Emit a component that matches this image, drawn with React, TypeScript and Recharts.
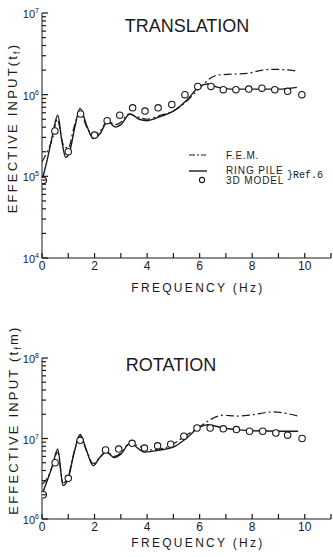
import React from "react"
import { ComposedChart, Line, Scatter, XAxis, YAxis } from "recharts"

const INK = "#1a1a1a"
const FONT = "'Liberation Sans', Arial, Helvetica, sans-serif"

// frequency axis
const freqTicks = [0, 1, 2, 3, 4, 5, 6, 7, 8, 9, 10, 11]
const minorSteps = [1, 2, 3, 4, 5, 6, 7, 8, 9]
const transDecades = [1e4, 1e5, 1e6]
const rotDecades = [1e6, 1e7]

// TRANSLATION
const transFemF = [0, 0.2, 0.4, 0.58, 0.8, 1.0, 1.2, 1.45, 1.7, 1.95, 2.2, 2.5, 2.8, 3.0, 3.3, 3.6, 4.0, 4.5, 5.0, 5.5, 6.0, 6.3, 6.7, 7.2, 7.8, 8.4, 8.9, 9.7]
const transFemV = [1.5e5, 2.0e5, 2.9e5, 5.0e5, 2.5e5, 2.2e5, 3.8e5, 6.3e5, 4.0e5, 3.2e5, 3.5e5, 4.8e5, 4.3e5, 4.6e5, 5.8e5, 5.4e5, 5.0e5, 5.6e5, 6.3e5, 8.3e5, 1.2e6, 1.5e6, 1.74e6, 1.78e6, 1.82e6, 2.0e6, 2.04e6, 1.95e6]
const transRingF = [0, 0.2, 0.4, 0.6, 0.75, 0.9, 1.05, 1.25, 1.45, 1.7, 1.95, 2.2, 2.5, 2.8, 3.0, 3.35, 3.7, 4.0, 4.5, 5.0, 5.5, 6.0, 6.3, 6.7, 7.2, 8.0, 9.0, 9.7]
const transRingV = [8.9e4, 1.6e5, 3.2e5, 5.6e5, 2.8e5, 1.7e5, 2.0e5, 4.0e5, 6.8e5, 4.2e5, 2.9e5, 3.3e5, 4.7e5, 4.0e5, 4.3e5, 5.8e5, 5.0e5, 4.8e5, 5.4e5, 6.3e5, 8.5e5, 1.26e6, 1.35e6, 1.23e6, 1.17e6, 1.17e6, 1.17e6, 1.23e6]
const trans3dF = [0.05, 0.49, 1.0, 1.47, 2.0, 2.48, 2.96, 3.45, 3.92, 4.42, 4.94, 5.44, 5.93, 6.43, 6.9, 7.38, 7.87, 8.37, 8.86, 9.35, 9.89]
const trans3dV = [8.9e4, 3.6e5, 2.0e5, 5.8e5, 3.2e5, 4.8e5, 5.6e5, 6.9e5, 6.3e5, 6.9e5, 7.6e5, 1.0e6, 1.26e6, 1.26e6, 1.15e6, 1.15e6, 1.17e6, 1.2e6, 1.15e6, 1.1e6, 1.0e6]

// ROTATION
const rotFemF = [0, 0.2, 0.4, 0.6, 0.8, 1.0, 1.2, 1.45, 1.7, 1.95, 2.2, 2.45, 2.75, 3.0, 3.3, 3.6, 4.0, 4.5, 5.0, 5.4, 6.0, 6.5, 6.9, 7.4, 7.9, 8.8, 9.3, 9.75]
const rotFemV = [2.7e6, 3.2e6, 4.6e6, 6.8e6, 2.8e6, 3.4e6, 6.4e6, 1.06e7, 7.0e6, 4.9e6, 5.8e6, 6.9e6, 6.0e6, 6.6e6, 8.5e6, 8.3e6, 7.2e6, 7.4e6, 8.6e6, 1.05e7, 1.4e7, 1.78e7, 1.95e7, 1.9e7, 1.95e7, 2.14e7, 2.05e7, 1.9e7]
const rotRingF = [0, 0.2, 0.4, 0.6, 0.8, 1.0, 1.2, 1.45, 1.7, 1.95, 2.2, 2.45, 2.75, 3.0, 3.35, 3.9, 4.5, 5.0, 5.4, 6.0, 6.3, 6.9, 7.5, 8.0, 9.0, 9.75]
const rotRingV = [2.0e6, 3.0e6, 4.6e6, 7.4e6, 2.6e6, 3.2e6, 6.2e6, 1.12e7, 7.0e6, 4.6e6, 5.8e6, 6.8e6, 5.8e6, 6.4e6, 8.7e6, 6.8e6, 7.2e6, 7.8e6, 9.5e6, 1.38e7, 1.48e7, 1.35e7, 1.28e7, 1.25e7, 1.23e7, 1.23e7]
const rot3dF = [0.05, 0.5, 1.0, 1.45, 2.42, 2.92, 3.43, 3.9, 4.4, 4.9, 5.4, 5.9, 6.4, 6.9, 7.4, 7.9, 8.4, 8.9, 9.35, 9.9]
const rot3dV = [2.0e6, 5.0e6, 3.2e6, 9.5e6, 7.2e6, 7.4e6, 8.7e6, 7.6e6, 8.1e6, 8.5e6, 1.07e7, 1.35e7, 1.35e7, 1.32e7, 1.29e7, 1.23e7, 1.23e7, 1.17e7, 1.1e7, 1.0e7]

const zip = (f: number[], v: number[]) => f.map((x, i) => ({ f: x, v: v[i] }))

const logTicks = (decades: number[]) => {
  const out: number[] = []
  decades.forEach((d) => minorSteps.forEach((m) => out.push(m * d)))
  out.push(decades[decades.length - 1] * 10)
  return out
}

// x, y are the axis-line position (tickSize and tickMargin are 0); marks point inward
function LogTick(props: any) {
  const x = Number(props.x)
  const y = Number(props.y)
  const lg = Math.log10(Number(props.payload.value))
  const exp = Math.round(lg)
  const major = Math.abs(lg - exp) < 1e-6
  return (
    <g>
      <rect x={x} y={y - 0.6} width={major ? 6 : 4} height={1.2} fill={INK} />
      {major && (
        <text x={x - 3} y={y + 5} textAnchor="end" fontSize={11} fill={INK} fontFamily={FONT}>
          10
          <tspan dy={-5} fontSize={7}>
            {exp}
          </tspan>
        </text>
      )}
    </g>
  )
}

function FreqTick(props: any) {
  const x = Number(props.x)
  const y = Number(props.y)
  const v = Number(props.payload.value)
  return (
    <g>
      <rect x={x - 0.6} y={y - 5} width={1.2} height={5} fill={INK} />
      {v % 2 === 0 && v <= 10 && (
        <text x={x} y={y + 12} textAnchor="middle" fontSize={12} fill={INK} fontFamily={FONT}>
          {v}
        </text>
      )}
    </g>
  )
}

const circle = (p: any) => (
  <circle cx={p.cx} cy={p.cy} r={3.2} fill="#fff" stroke={INK} strokeWidth={1.1} />
)

type PanelProps = {
  fem: { f: number; v: number }[]
  ring: { f: number; v: number }[]
  model: { f: number; v: number }[]
  domain: [number, number]
  decades: number[]
  height: number
  top: number
  axisHeight: number
}

function Panel({ fem, ring, model, domain, decades, height, top, axisHeight }: PanelProps) {
  return (
    <ComposedChart width={333} height={height} margin={{ top, right: 2, bottom: 0, left: 0 }}>
      <XAxis
        type="number"
        dataKey="f"
        domain={[0, 11]}
        ticks={freqTicks}
        interval={0}
        tick={<FreqTick />}
        tickLine={false}
        tickSize={0}
        tickMargin={0}
        height={axisHeight}
        stroke={INK}
        allowDataOverflow
      />
      <YAxis
        type="number"
        dataKey="v"
        scale="log"
        domain={domain}
        ticks={logTicks(decades)}
        interval={0}
        tick={<LogTick />}
        tickLine={false}
        tickSize={0}
        tickMargin={0}
        width={42}
        stroke={INK}
        allowDataOverflow
      />
      <Line
        data={fem}
        dataKey="v"
        type="monotone"
        stroke={INK}
        strokeWidth={1.2}
        strokeDasharray="8 3 2 3"
        dot={false}
        isAnimationActive={false}
      />
      <Line
        data={ring}
        dataKey="v"
        type="monotone"
        stroke={INK}
        strokeWidth={1.4}
        dot={false}
        isAnimationActive={false}
      />
      <Scatter data={model} dataKey="v" shape={circle} isAnimationActive={false} />
    </ComposedChart>
  )
}

export default function App() {
  const label = { fontFamily: FONT, fill: INK }
  return (
    <div style={{ position: "absolute", left: 0, top: 0, width: 333, height: 557, background: "#fff" }}>
      <div style={{ position: "absolute", left: 0, top: 0 }}>
        <Panel
          fem={zip(transFemF, transFemV)}
          ring={zip(transRingF, transRingV)}
          model={zip(trans3dF, trans3dV)}
          domain={[1e4, 1e7]}
          decades={transDecades}
          height={290}
          top={13}
          axisHeight={32}
        />
      </div>
      <div style={{ position: "absolute", left: 0, top: 290 }}>
        <Panel
          fem={zip(rotFemF, rotFemV)}
          ring={zip(rotRingF, rotRingV)}
          model={zip(rot3dF, rot3dV)}
          domain={[1e6, 1e8]}
          decades={rotDecades}
          height={267}
          top={68}
          axisHeight={38}
        />
      </div>
      <svg width={333} height={557} style={{ position: "absolute", left: 0, top: 0, pointerEvents: "none" }}>
        <text x={187} y={32} textAnchor="middle" fontSize={18} {...label}>
          TRANSLATION
        </text>
        <text x={171} y={371} textAnchor="middle" fontSize={18} {...label}>
          ROTATION
        </text>

        <text x={198} y={292} textAnchor="middle" fontSize={12} letterSpacing={2.3} {...label}>
          FREQUENCY (Hz)
        </text>
        <text x={198} y={547} textAnchor="middle" fontSize={12} letterSpacing={2.3} {...label}>
          FREQUENCY (Hz)
        </text>

        <text
          transform="translate(17 128) rotate(-90)"
          textAnchor="middle"
          fontSize={13}
          letterSpacing={2.2}
          {...label}
        >
          EFFECTIVE INPUT(t
          <tspan fontSize={9} dy={3}>f</tspan>
          <tspan dy={-3}>)</tspan>
        </text>
        <text
          transform="translate(18 420) rotate(-90)"
          textAnchor="middle"
          fontSize={13}
          letterSpacing={2.2}
          {...label}
        >
          EFFECTIVE INPUT (t
          <tspan fontSize={9} dy={3}>f</tspan>
          <tspan dy={-3}>m)</tspan>
        </text>

        {/* legend */}
        <line x1={189} x2={206} y1={155} y2={155} stroke={INK} strokeWidth={1.2} strokeDasharray="6 2 2 2" />
        <text x={226} y={159} fontSize={10} letterSpacing={0.8} {...label}>F.E.M.</text>
        <line x1={189} x2={207} y1={171} y2={171} stroke={INK} strokeWidth={1.4} />
        <text x={226} y={174} fontSize={10} letterSpacing={0.9} {...label}>RING PILE</text>
        <circle cx={202} cy={180} r={2.6} fill="#fff" stroke={INK} strokeWidth={1.1} />
        <text x={226} y={184} fontSize={10} letterSpacing={0.9} {...label}>3D MODEL</text>
        <text x={287} y={178} fontSize={10} fontFamily="'Liberation Mono', 'DejaVu Sans Mono', monospace" fill={INK}>
          {"}Ref.6"}
        </text>
      </svg>
    </div>
  )
}
